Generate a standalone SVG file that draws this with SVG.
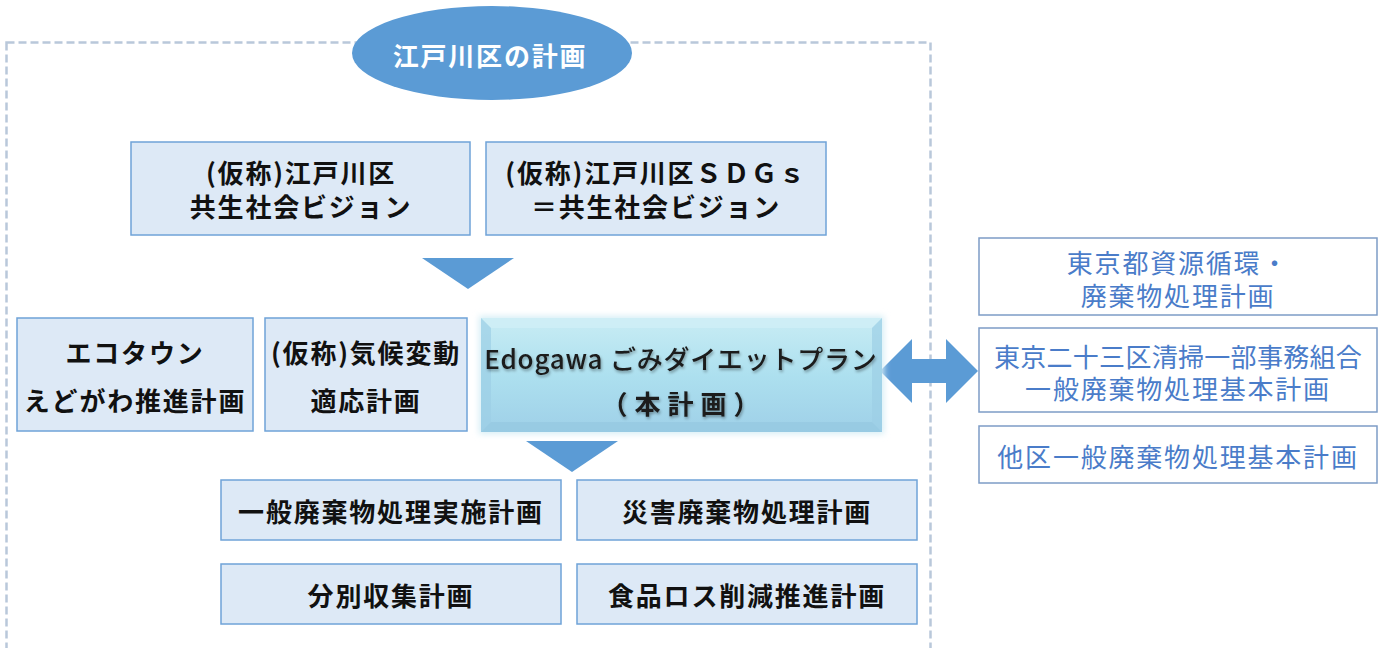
<svg xmlns="http://www.w3.org/2000/svg" width="1385" height="648" viewBox="0 0 1385 648">
<defs>
<style>
.t{font-family:"Noto Sans CJK JP","Noto Sans",sans-serif;font-size:26px;letter-spacing:1.8px;text-anchor:middle;dominant-baseline:central}
.b{font-weight:bold;fill:#111}
.w{fill:#fff;font-weight:bold}
.r{fill:#4a7cc9;font-weight:normal}
.bx{fill:#dde9f6;stroke:#6fa3d8;stroke-width:1.5}
.rb{fill:#fff;stroke:#7d9cc6;stroke-width:1.5}
.ar{fill:#5b9bd5}
</style>
<linearGradient id="g" x1="0" y1="0" x2="0" y2="1">
<stop offset="0" stop-color="#c8ecf4"/>
<stop offset="0.5" stop-color="#ade0ef"/>
<stop offset="1" stop-color="#9fd0e8"/>
</linearGradient>
<filter id="glow" x="-10%" y="-20%" width="120%" height="140%">
<feGaussianBlur stdDeviation="3"/>
</filter>
<filter id="ts" x="-5%" y="-30%" width="110%" height="160%">
<feGaussianBlur in="SourceAlpha" stdDeviation="1.5"/>
<feOffset dx="1" dy="2" result="o"/>
<feComponentTransfer><feFuncA type="linear" slope="0.35"/></feComponentTransfer>
<feMerge><feMergeNode/><feMergeNode in="SourceGraphic"/></feMerge>
</filter>
</defs>
<rect width="1385" height="648" fill="#fff"/>
<g id="frame">
<rect x="6.5" y="42.5" width="924" height="610" fill="none" stroke="#b9c8da" stroke-width="2.5" stroke-dasharray="8,4"/>
</g>
<g id="title">
<ellipse cx="492" cy="53" rx="140" ry="47" fill="#5b9bd5"/>
<text class="t w" x="490" y="54">江戸川区の計画</text>
</g>
<g id="connectors">
<polygon class="ar" points="422,258 514,258 468,289"/>
<polygon class="ar" points="526,441 618,441 572,472"/>
<polygon class="ar" points="880,371 912,339 912,359 946,359 946,339 978,371 946,403 946,383 912,383 912,403"/>
</g>
<g id="n-kyosei">
<rect class="bx" x="131" y="142" width="339" height="93"/>
<text class="t b" x="301" y="171">(仮称)江戸川区</text>
<text class="t b" x="301" y="205">共生社会ビジョン</text>
</g>
<g id="n-sdgs">
<rect class="bx" x="486" y="142" width="340" height="93"/>
<text class="t b" x="656" y="171">(仮称)江戸川区ＳＤＧｓ</text>
<text class="t b" x="656" y="205">＝共生社会ビジョン</text>
</g>
<g id="n-ecotown">
<rect class="bx" x="17" y="318" width="236" height="113"/>
<text class="t b" x="135" y="351">エコタウン</text>
<text class="t b" x="135" y="399">えどがわ推進計画</text>
</g>
<g id="n-kiko">
<rect class="bx" x="265" y="318" width="202" height="113"/>
<text class="t b" x="366" y="351">(仮称)気候変動</text>
<text class="t b" x="366" y="399">適応計画</text>
</g>
<g id="n-main">
<rect x="479" y="316" width="405" height="118" fill="#d6eef6" filter="url(#glow)"/>
<rect x="481" y="318" width="401" height="114" fill="url(#g)"/>
<polygon points="481,318 882,318 872,328 491,328" fill="#d2f0f6" opacity="0.7"/>
<polygon points="481,432 882,432 872,422 491,422" fill="#93c6df" opacity="0.6"/>
<polygon points="481,318 491,328 491,422 481,432" fill="#9ccfe6" opacity="0.7"/>
<polygon points="882,318 872,328 872,422 882,432" fill="#9ccfe6" opacity="0.7"/>
<g filter="url(#ts)">
<text class="t" x="681" y="357" style="fill:#1a1a1a;font-weight:500;letter-spacing:0.8px">Edogawa ごみダイエットプラン</text>
<text class="t" x="684" y="402" style="fill:#1a1a1a;font-weight:bold;letter-spacing:7px">（本計画）</text>
</g>
</g>
<g id="n-jisshi">
<rect class="bx" x="221" y="480" width="340" height="60"/>
<text class="t b" x="391" y="510">一般廃棄物処理実施計画</text>
</g>
<g id="n-saigai">
<rect class="bx" x="577" y="480" width="340" height="60"/>
<text class="t b" x="747" y="510">災害廃棄物処理計画</text>
</g>
<g id="n-bunbetsu">
<rect class="bx" x="221" y="564" width="340" height="60"/>
<text class="t b" x="391" y="594">分別収集計画</text>
</g>
<g id="n-foodloss">
<rect class="bx" x="577" y="564" width="340" height="60"/>
<text class="t b" x="747" y="594">食品ロス削減推進計画</text>
</g>
<g id="n-tokyo">
<rect class="rb" x="979" y="238" width="398" height="77"/>
<text class="t r" x="1178" y="261">東京都資源循環・</text>
<text class="t r" x="1178" y="294">廃棄物処理計画</text>
</g>
<g id="n-23ku">
<rect class="rb" x="979" y="328" width="398" height="84"/>
<text class="t r" x="1178" y="355" style="letter-spacing:0.3px">東京二十三区清掃一部事務組合</text>
<text class="t r" x="1178" y="387">一般廃棄物処理基本計画</text>
</g>
<g id="n-taku">
<rect class="rb" x="979" y="426" width="398" height="57"/>
<text class="t r" x="1178" y="455">他区一般廃棄物処理基本計画</text>
</g>
</svg>
